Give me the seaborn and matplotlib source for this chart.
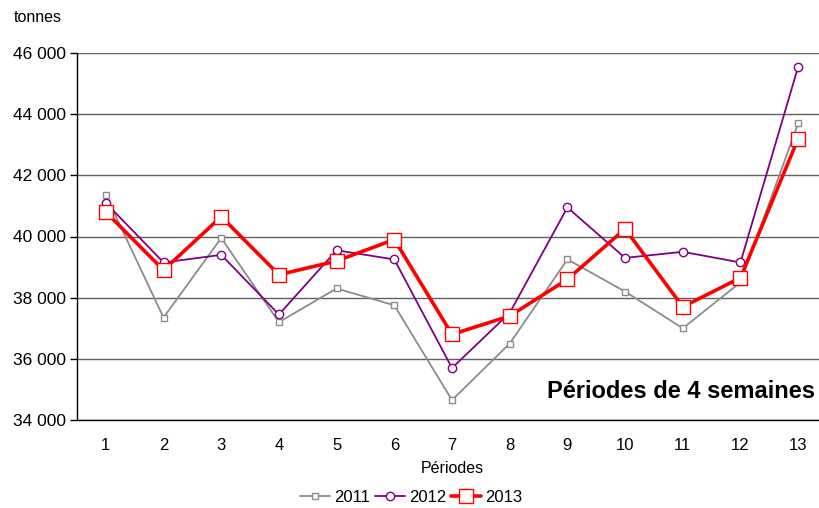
import pandas as pd
import matplotlib
matplotlib.use('Agg')
import matplotlib.pyplot as plt
import seaborn as sns
from matplotlib.ticker import FuncFormatter, MultipleLocator

# Tonnages per 4-week period
periods = list(range(1, 14))
tonnes_2011 = [41350, 37350, 39950, 37200, 38300, 37750, 34650, 36500, 39250, 38200, 37000, 38500, 43700]
tonnes_2012 = [41100, 39150, 39400, 37450, 39550, 39250, 35700, 37500, 40950, 39300, 39500, 39150, 45550]
tonnes_2013 = [40800, 38900, 40650, 38750, 39200, 39900, 36800, 37400, 38600, 40250, 37700, 38650, 43200]

sns.set_style('white')
plt.rcParams['font.family'] = ['Liberation Sans', 'DejaVu Sans']
plt.rcParams['text.color'] = 'black'
plt.rcParams['axes.labelcolor'] = 'black'
plt.rcParams['xtick.color'] = 'black'
plt.rcParams['ytick.color'] = 'black'

fig = plt.figure(figsize=(8.19, 5.08), dpi=100)
ax = fig.add_axes([77 / 819, 1 - 420 / 508, 750 / 819, 367 / 508])

series = [
    ('2011', tonnes_2011, '#8c8c8c', 's', 5, 1.3),
    ('2012', tonnes_2012, '#800080', 'o', 6, 1.3),
    ('2013', tonnes_2013, '#ff0000', 's', 10, 2.6),
]
for name, vals, col, mk, ms, lw in series:
    sns.lineplot(x=periods, y=vals, ax=ax, color=col, marker=mk, markersize=ms,
                 markerfacecolor='white', markeredgecolor=col, markeredgewidth=1,
                 linewidth=lw, label=name)

ax.set_xlim(0.5, 13.5)
ax.set_ylim(34000, 46000)
ax.yaxis.set_major_locator(MultipleLocator(2000))
ax.yaxis.set_major_formatter(FuncFormatter(lambda v, p: f'{int(v):,}'.replace(',', ' ')))
ax.set_xticks(periods)
ax.set_xticks([p + 0.5 for p in periods[:-1]], minor=True)
ax.tick_params(axis='x', which='major', length=0, pad=13, labelsize=12)
ax.tick_params(axis='x', which='minor', length=5, width=1, color='black', direction='out')
ax.tick_params(axis='y', length=5, width=1, color='black', direction='out', labelsize=12.5,
               left=True, pad=3)

ax.grid(axis='y', color='#606060', linewidth=1)
ax.set_axisbelow(True)
for s in ['top', 'right']:
    ax.spines[s].set_visible(False)
for s in ['left', 'bottom']:
    ax.spines[s].set_color('black')
    ax.spines[s].set_linewidth(1)

ax.set_xlabel('Périodes', fontsize=11.5, labelpad=6)
ax.set_ylabel('')
fig.text(14 / 819, 1 - 17 / 508, 'tonnes', fontsize=11.5, va='center', ha='left')
fig.text(815 / 819, 1 - 391 / 508, 'Périodes de 4 semaines', fontsize=17, fontweight='bold',
         ha='right', va='center')

ax.legend(loc='center', bbox_to_anchor=(411 / 819, 1 - 497 / 508), bbox_transform=fig.transFigure,
          ncol=3, frameon=False, fontsize=12, handlelength=1.8, columnspacing=0.3, handletextpad=0.25)

fig.savefig('out.png', dpi=100)
